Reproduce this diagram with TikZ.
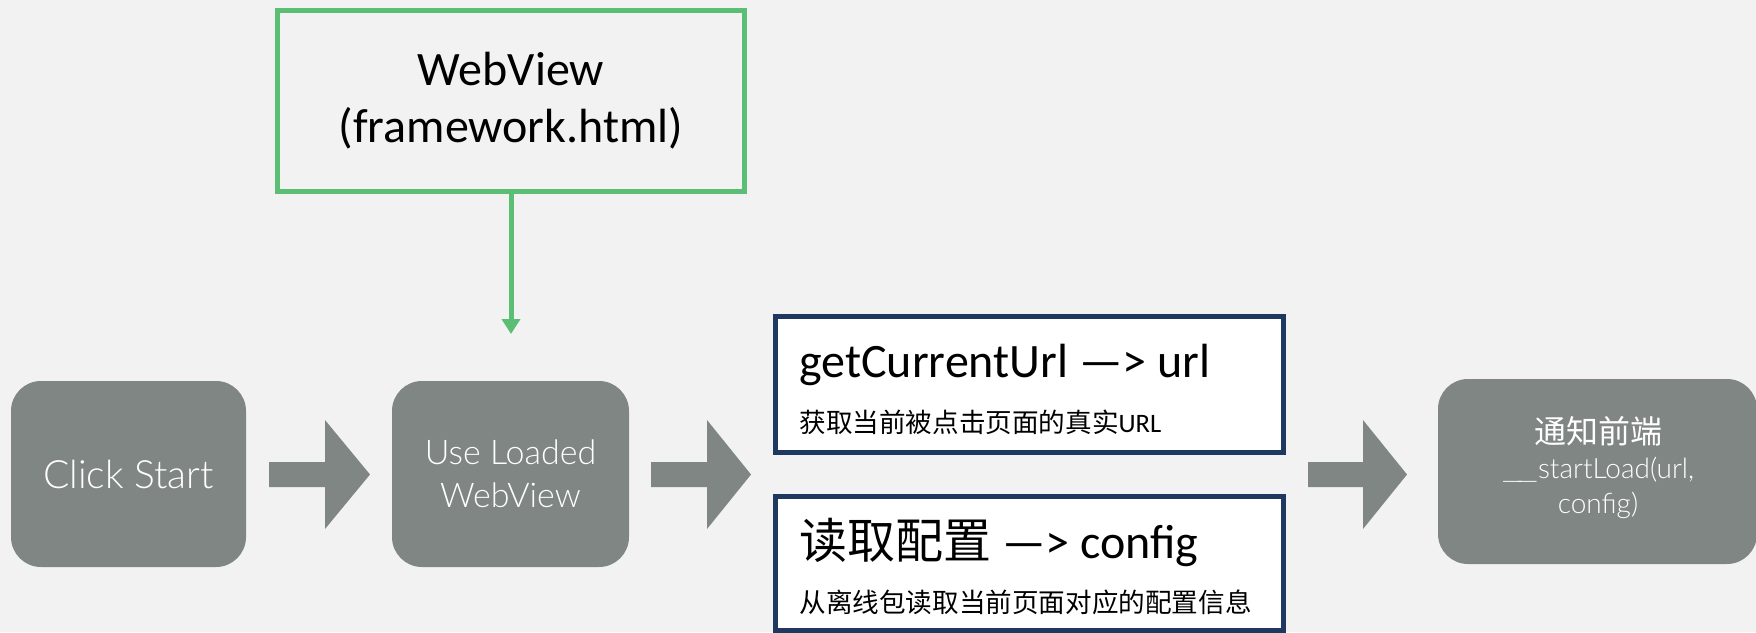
\documentclass[tikz,border=0pt]{standalone}
\usepackage{fontspec}
\setmainfont{Carlito}
\newfontfamily\cjk{Noto Sans CJK SC}
\newfontfamily\gill{Lato Light}
\usetikzlibrary{shadows,arrows.meta}

\definecolor{pagebg}{RGB}{242,242,242}
\definecolor{stepgray}{RGB}{128,134,131}
\definecolor{leafgreen}{RGB}{90,190,117}
\definecolor{navyline}{RGB}{31,56,96}

\tikzset{
  graybox/.style={fill=stepgray, draw=none, rounded corners=15pt, text=white,
    align=center, inner sep=0pt},
  infobox/.style={fill=white, draw=navyline, line width=2.5pt,
    drop shadow={opacity=0.25, shadow xshift=1pt, shadow yshift=-1.2pt}},
  srcbox/.style={draw=leafgreen, line width=2.5pt, fill=pagebg, align=center,
    drop shadow={opacity=0.2, shadow xshift=1pt, shadow yshift=-1.2pt}},
  flowarrow/.style={fill=stepgray, draw=none},
  bigtxt/.style={font=\fontsize{24pt}{28pt}\selectfont, inner sep=0pt},
  smalltxt/.style={font=\fontsize{13.3pt}{16pt}\selectfont, inner sep=0pt},
}

% block arrow: shaft from x0 to the head base, head ending at the tip
\newcommand{\blockarrow}[3]{%
  \fill[flowarrow] (#1,462) -- (#2,462) -- (#2,420) -- (#3,474.5)
    -- (#2,529) -- (#2,487) -- (#1,487) -- cycle;}

\begin{document}
\begin{tikzpicture}[x=0.5pt,y=-0.5pt]
  % page
  \fill[pagebg] (0,0) rectangle (1756,632);
  \useasboundingbox (0,0) rectangle (1756,632);

  % source of the web view
  \node[srcbox, minimum width=233.5pt, minimum height=90.5pt,
        font=\fontsize{24pt}{28.5pt}\selectfont] (webview) at (511,101)
        {WebView\\(framework.html)};
  \coordinate (webviewin) at (511,334);
  \draw[leafgreen, line width=2.5pt, -{Triangle[length=7.5pt,width=9pt]}]
        (webview.south) -- (webviewin);

  % main flow
  \node[graybox, minimum width=117.5pt, minimum height=93pt,
        font=\gill\fontsize{19.5pt}{23pt}\selectfont] (click) at (128.5,474)
        {Click Start};
  \node[graybox, minimum width=118.5pt, minimum height=93pt,
        font=\gill\fontsize{17pt}{21.5pt}\selectfont] (loaded) at (510.5,474)
        {Use Loaded\\WebView};

  \node[infobox, minimum width=254pt, minimum height=68pt] (urlbox)
        at (1029.5,384.5) {};
  \node[infobox, minimum width=254pt, minimum height=67pt] (cfgbox)
        at (1029.5,563.5) {};

  \node[graybox, minimum width=159.5pt, minimum height=92.5pt] (notify)
        at (1597.5,471.5) {};
  \node[text=white, align=center, inner sep=0pt,
        font=\gill\fontsize{14pt}{17.5pt}\selectfont] (notifytxt) at (1598,468)
        {{\cjk\fontsize{16pt}{17.5pt}\selectfont 通知前端}\\\scalebox{1.7}[1]{\_\kern-0.14em\_}startLoad(url,\\config)};

  % texts of the two info boxes
  \node[bigtxt, anchor=base west] (urltitle) at (799,377)
        {getCurrentUrl —> url};
  \node[smalltxt, anchor=base west] (urlnote) at (799,432)
        {{\cjk 获取当前被点击页面的真实}URL};
  \node[bigtxt, anchor=base west] (cfgtitle) at (799,558)
        {{\cjk 读取配置} —> config};
  \node[smalltxt, anchor=base west] (cfgnote) at (799,612)
        {\cjk 从离线包读取当前页面对应的配置信息};

  % block arrows between the steps
  \blockarrow{269}{325}{370}
  \blockarrow{651}{707}{751}
  \blockarrow{1308}{1363}{1407}
\end{tikzpicture}
\end{document}
